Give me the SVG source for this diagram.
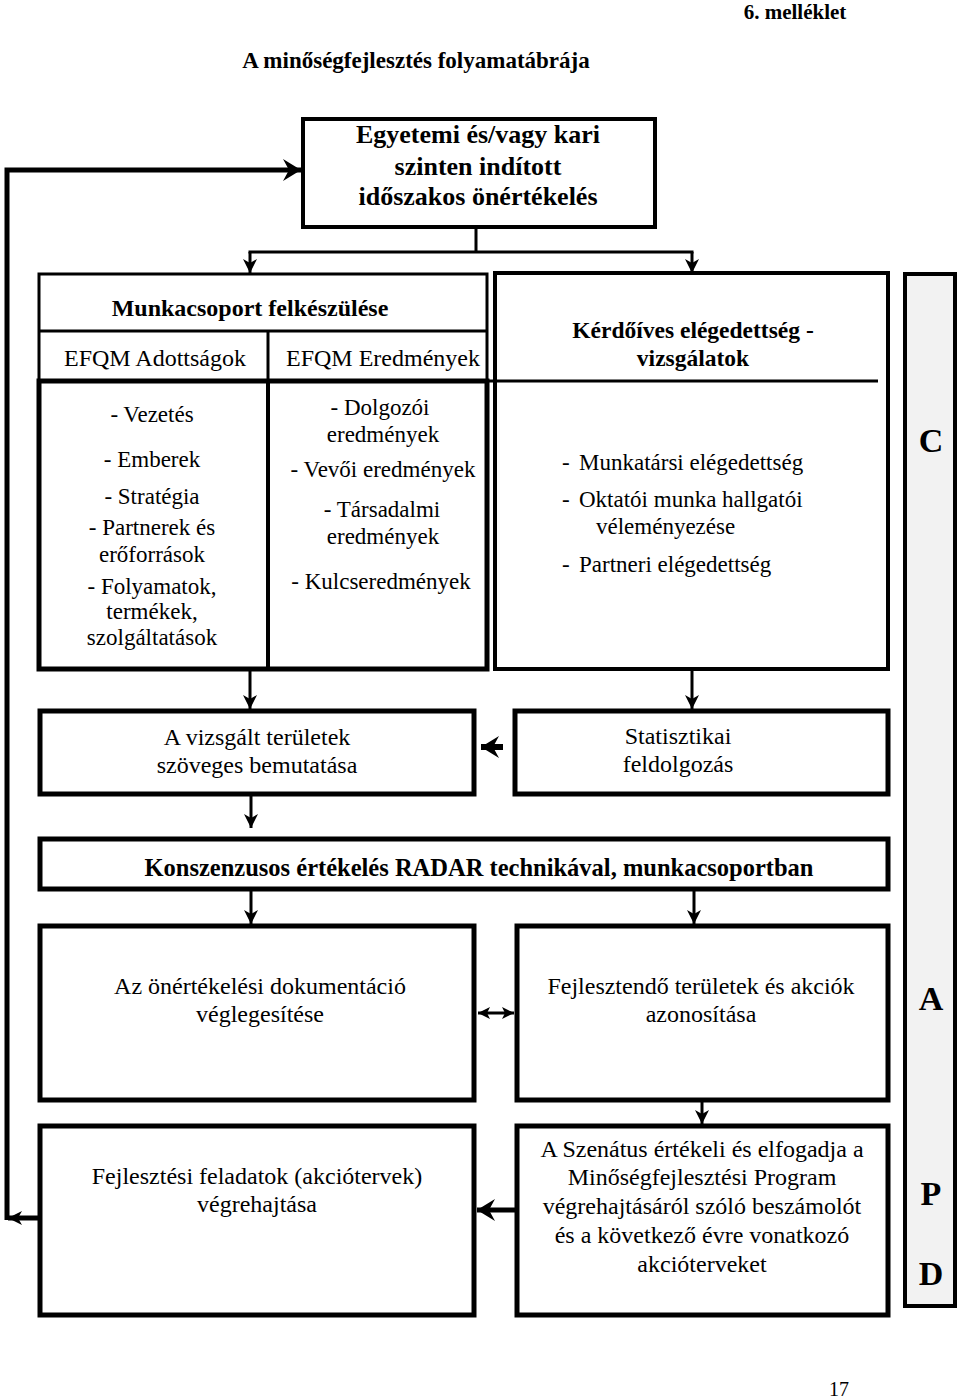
<svg xmlns="http://www.w3.org/2000/svg" width="960" height="1398" viewBox="0 0 960 1398">
<style>
text{font-family:"Liberation Serif","Times New Roman",serif;fill:#000}
.c{text-anchor:middle}
.b{font-weight:bold}
.t23{font-size:23px}
.t24{font-size:24px}
.box{fill:#fff;stroke:#000;stroke-width:4}
.thick{fill:#fff;stroke:#000;stroke-width:5}
.ln{fill:none;stroke:#000;stroke-width:3}
.con{fill:none;stroke:#000;stroke-width:3}
.conT{fill:none;stroke:#000;stroke-width:5}
</style>
<defs>
<marker id="ah" markerUnits="userSpaceOnUse" markerWidth="16" markerHeight="16" refX="14" refY="8" orient="auto"><path d="M0,1 L14,8 L0,15 L4,8 z" fill="#000"/></marker>
<marker id="ahd" markerUnits="userSpaceOnUse" markerWidth="14" markerHeight="12" refX="12" refY="6" orient="auto-start-reverse"><path d="M0,0 L12,6 L0,12 L3,6 z" fill="#000"/></marker>
<marker id="ahL" markerUnits="userSpaceOnUse" markerWidth="20" markerHeight="22" refX="18" refY="11" orient="auto"><path d="M0,0 L18,11 L0,22 L6,11 z" fill="#000"/></marker>
</defs>

<g id="header">
<text class="b c" x="795" y="19" font-size="21">6. melléklet</text>
<text class="b c" x="416" y="68" font-size="23">A minőségfejlesztés folyamatábrája</text>
</g>

<g id="node-start">
<rect class="box" x="303" y="119" width="352" height="108"/>
<text class="b c" x="478" y="143" font-size="26">Egyetemi és/vagy kari</text>
<text class="b c" x="478" y="175" font-size="26">szinten indított</text>
<text class="b c" x="478" y="205" font-size="26">időszakos önértékelés</text>
</g>

<g id="node-munkacsoport">
<rect x="39" y="274" width="448" height="107" fill="#fff" stroke="#000" stroke-width="3"/>
<rect class="thick" x="39" y="381" width="448" height="288"/>
<line class="ln" x1="39" y1="331" x2="487" y2="331"/>
<line x1="268" y1="331" x2="268" y2="381" stroke="#000" stroke-width="3"/>
<line x1="268" y1="381" x2="268" y2="669" stroke="#000" stroke-width="4"/>
<text class="b c t24" x="250" y="316">Munkacsoport felkészülése</text>
<text class="c t24" x="155" y="366">EFQM Adottságok</text>
<text class="c t24" x="383" y="366">EFQM Eredmények</text>
<text class="c t23" x="152" y="422">- Vezetés</text>
<text class="c t23" x="152" y="467">- Emberek</text>
<text class="c t23" x="152" y="504">- Stratégia</text>
<text class="c t23" x="152" y="535">- Partnerek és</text>
<text class="c t23" x="152" y="562">erőforrások</text>
<text class="c t23" x="152" y="594">- Folyamatok,</text>
<text class="c t23" x="152" y="619">termékek,</text>
<text class="c t23" x="152" y="645">szolgáltatások</text>
<text class="c t23" x="380" y="415">- Dolgozói</text>
<text class="c t23" x="383" y="442">eredmények</text>
<text class="c t23" x="383" y="477">- Vevői eredmények</text>
<text class="c t23" x="382" y="517">- Társadalmi</text>
<text class="c t23" x="383" y="544">eredmények</text>
<text class="c t23" x="381" y="589">- Kulcseredmények</text>
</g>

<g id="node-kerdoives">
<rect class="box" x="495" y="273" width="393" height="396"/>
<line class="ln" x1="37" y1="381" x2="878" y2="381"/>
<text class="b c" x="693" y="338" font-size="23.5">Kérdőíves elégedettség -</text>
<text class="b c" x="693" y="366" font-size="23.5">vizsgálatok</text>
<text class="t23" x="562" y="470">-</text><text class="t23" x="579" y="470">Munkatársi elégedettség</text>
<text class="t23" x="562" y="507">-</text><text class="t23" x="579" y="507">Oktatói munka hallgatói</text>
<text class="t23" x="596" y="534">véleményezése</text>
<text class="t23" x="562" y="572">-</text><text class="t23" x="579" y="572">Partneri elégedettség</text>
</g>

<g id="node-pdca">
<rect x="905" y="274" width="50" height="1032" fill="#f2f2f2" stroke="#000" stroke-width="4"/>
<text class="b c" x="931" y="452" font-size="34">C</text>
<text class="b c" x="931" y="1010" font-size="34">A</text>
<text class="b c" x="931" y="1205" font-size="34">P</text>
<text class="b c" x="931" y="1285" font-size="34">D</text>
</g>

<g id="node-vizsgalt">
<rect class="thick" x="40" y="711" width="434" height="83"/>
<text class="c t24" x="257" y="745">A vizsgált területek</text>
<text class="c t24" x="257" y="773">szöveges bemutatása</text>
</g>

<g id="node-statisztikai">
<rect class="thick" x="515" y="711" width="373" height="83"/>
<text class="c t24" x="678" y="744">Statisztikai</text>
<text class="c t24" x="678" y="772">feldolgozás</text>
</g>

<g id="node-radar">
<rect class="thick" x="40" y="839" width="848" height="50"/>
<text class="b c" x="479" y="876" font-size="24.5">Konszenzusos értékelés RADAR technikával, munkacsoportban</text>
</g>

<g id="node-dokumentacio">
<rect class="thick" x="40" y="926" width="434" height="174"/>
<text class="c t24" x="260" y="994">Az önértékelési dokumentáció</text>
<text class="c t24" x="260" y="1022">véglegesítése</text>
</g>

<g id="node-fejlesztendo">
<rect class="thick" x="517" y="926" width="371" height="174"/>
<text class="c t24" x="701" y="994">Fejlesztendő területek és akciók</text>
<text class="c t24" x="701" y="1022">azonosítása</text>
</g>

<g id="node-feladatok">
<rect class="thick" x="40" y="1126" width="434" height="189"/>
<text class="c t24" x="257" y="1184">Fejlesztési feladatok (akciótervek)</text>
<text class="c t24" x="257" y="1212">végrehajtása</text>
</g>

<g id="node-szenatus">
<rect class="thick" x="517" y="1126" width="371" height="189"/>
<text class="c t24" x="702" y="1157">A Szenátus értékeli és elfogadja a</text>
<text class="c t24" x="702" y="1185">Minőségfejlesztési Program</text>
<text class="c t24" x="702" y="1214">végrehajtásáról szóló beszámolót</text>
<text class="c t24" x="702" y="1243">és a következő évre vonatkozó</text>
<text class="c t24" x="702" y="1272">akcióterveket</text>
</g>

<g id="connectors">
<path class="con" d="M476,227 V252 M248.5,252 H693.5"/>
<line class="con" x1="250" y1="252" x2="250" y2="273" marker-end="url(#ah)"/>
<line class="con" x1="692" y1="252" x2="692" y2="273" marker-end="url(#ah)"/>
<line class="con" x1="250" y1="671" x2="250" y2="709" marker-end="url(#ah)"/>
<line class="con" x1="692" y1="671" x2="692" y2="709" marker-end="url(#ah)"/>
<line x1="503" y1="747" x2="481" y2="747" stroke="#000" stroke-width="6" marker-end="url(#ahL)"/>
<line class="con" x1="251" y1="796" x2="251" y2="828" marker-end="url(#ah)"/>
<line class="con" x1="251" y1="891" x2="251" y2="924" marker-end="url(#ah)"/>
<line class="con" x1="694" y1="891" x2="694" y2="924" marker-end="url(#ah)"/>
<line class="con" x1="478" y1="1013" x2="514" y2="1013" marker-start="url(#ahd)" marker-end="url(#ahd)"/>
<line class="con" x1="702" y1="1102" x2="702" y2="1124" marker-end="url(#ah)"/>
<line class="conT" x1="515" y1="1210" x2="477" y2="1210" marker-end="url(#ahL)"/>
<line class="conT" x1="38" y1="1218" x2="8" y2="1218" marker-end="url(#ah)"/>
<polyline class="conT" points="7,1220 7,170 301,170" marker-end="url(#ahL)"/>
</g>

<g id="footer">
<text class="c" x="839" y="1396" font-size="20">17</text>
</g>
</svg>
